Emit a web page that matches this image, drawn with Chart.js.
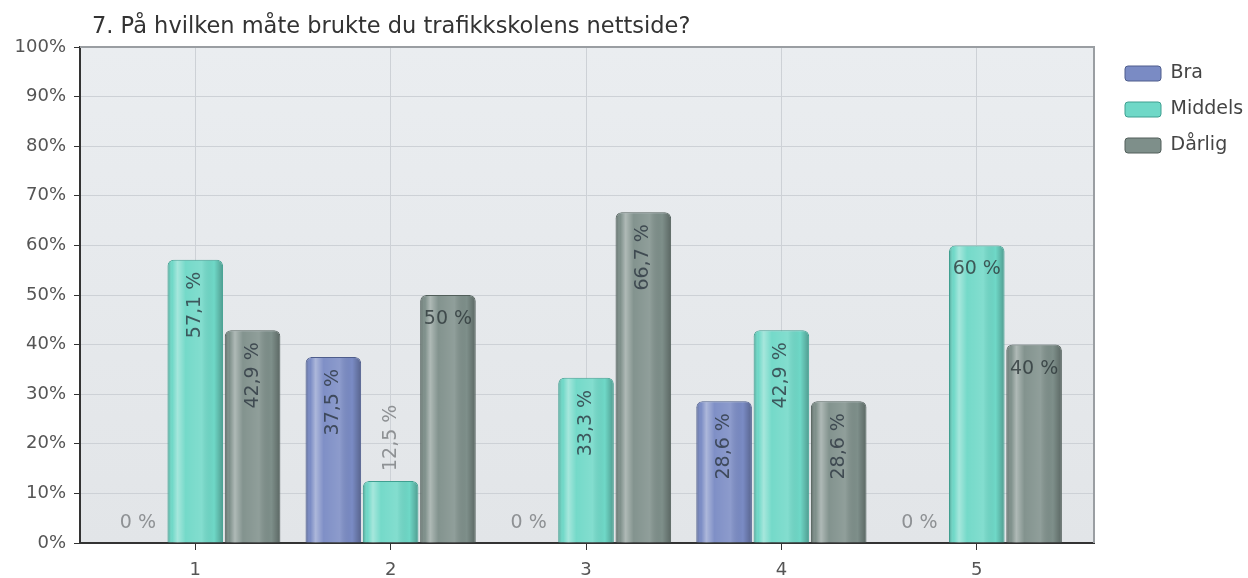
<!DOCTYPE html>
<html>
<head>
<meta charset="utf-8">
<script src="https://cdn.jsdelivr.net/npm/chart.js@4.4.1/dist/chart.umd.min.js"></script>
<style>
  html, body { margin: 0; padding: 0; background: #fff; }
  #wrap { width: 1248px; height: 578px; position: relative; }
</style>
</head>
<body>
<div id="wrap"><canvas id="surveyChart"></canvas></div>
<script>
const chartTitle = '7. På hvilken måte brukte du trafikkskolens nettside?';
const categories = ['1', '2', '3', '4', '5'];
const seriesNames = ['Bra', 'Middels', 'Dårlig'];
const braValues = [0, 37.5, 0, 28.6, 0];
const middelsValues = [57.1, 12.5, 33.3, 42.9, 60];
const darligValues = [42.9, 50, 66.7, 28.6, 40];

const FONT = '"DejaVu Sans", sans-serif';
Chart.defaults.font.family = FONT;

// bars sit on a linear x scale so the group spacing matches the original
function toPoints(values) {
    return values.map((v, i) => ({ x: i + 1, y: v }));
}

function pctLabel(v) {
    return String(v).replace('.', ',') + ' %';
}

const plotBackground = {
    id: 'plotBackground',
    beforeDraw(chart) {
        const { ctx, chartArea: a } = chart;
        const g = ctx.createLinearGradient(0, a.top, 0, a.bottom);
        g.addColorStop(0, '#eaedf0');
        g.addColorStop(1, '#e2e5e8');
        ctx.save();
        ctx.fillStyle = g;
        ctx.fillRect(a.left, a.top, a.right - a.left, a.bottom - a.top);
        ctx.restore();
    },
    afterDatasetsDraw(chart) {
        const { ctx, chartArea: a } = chart;
        ctx.save();
        ctx.strokeStyle = '#9a9ea2';
        ctx.lineWidth = 2;
        ctx.beginPath();
        ctx.moveTo(a.left, a.top);
        ctx.lineTo(a.right, a.top);
        ctx.lineTo(a.right, a.bottom);
        ctx.stroke();
        ctx.restore();
    },
    afterDraw(chart) {
        const ctx = chart.ctx;
        ctx.save();
        ctx.font = '22.5px ' + FONT;
        ctx.fillStyle = '#333';
        ctx.textAlign = 'left';
        ctx.textBaseline = 'alphabetic';
        ctx.fillText(chartTitle, 92, 33);
        ctx.restore();
    }
};

// cylinder-like shading over each bar
const barShine = {
    id: 'barShine',
    afterDatasetsDraw(chart) {
        const ctx = chart.ctx;
        chart.data.datasets.forEach((ds, di) => {
            chart.getDatasetMeta(di).data.forEach((bar) => {
                const { x, y, base, width } = bar.getProps(['x', 'y', 'base', 'width'], true);
                const h = base - y;
                if (h < 2) return;
                const l = x - width / 2 + 1;
                const w = width - 2;
                const g = ctx.createLinearGradient(l, 0, l + w, 0);
                g.addColorStop(0, 'rgba(0,0,0,0.18)');
                g.addColorStop(0.07, 'rgba(255,255,255,0)');
                g.addColorStop(0.17, 'rgba(255,255,255,0.38)');
                g.addColorStop(0.32, 'rgba(255,255,255,0.04)');
                g.addColorStop(0.62, 'rgba(255,255,255,0.14)');
                g.addColorStop(0.85, 'rgba(0,0,0,0)');
                g.addColorStop(1, 'rgba(0,0,0,0.25)');
                ctx.save();
                ctx.beginPath();
                ctx.roundRect(l, y + 1, w, h - 1, [5, 5, 0, 0]);
                ctx.fillStyle = g;
                ctx.fill();
                ctx.restore();
            });
        });
    }
};

const valueLabels = {
    id: 'valueLabels',
    afterDatasetsDraw(chart) {
        const ctx = chart.ctx;
        ctx.save();
        ctx.font = '19px ' + FONT;
        chart.data.datasets.forEach((ds, di) => {
            chart.getDatasetMeta(di).data.forEach((bar, i) => {
                const text = pctLabel(ds.data[i].y);
                const { x, y, base, width } = bar.getProps(['x', 'y', 'base', 'width'], true);
                const h = base - y;
                const tw = ctx.measureText(text).width;
                if (tw <= width - 4) {
                    ctx.textAlign = 'center';
                    ctx.textBaseline = 'middle';
                    if (h < 45) {
                        ctx.fillStyle = '#8e9194';
                        ctx.fillText(text, x, y - 20);
                    } else {
                        ctx.fillStyle = 'rgba(45,55,58,0.8)';
                        ctx.fillText(text, x, y + 24);
                    }
                } else {
                    ctx.save();
                    ctx.translate(x, y);
                    ctx.rotate(-Math.PI / 2);
                    ctx.textBaseline = 'middle';
                    if (h >= tw + 20) {
                        ctx.textAlign = 'right';
                        ctx.fillStyle = 'rgba(45,55,65,0.8)';
                        ctx.fillText(text, -12, 0);
                    } else {
                        ctx.textAlign = 'left';
                        ctx.fillStyle = '#8e9194';
                        ctx.fillText(text, 10, 0);
                    }
                    ctx.restore();
                }
            });
        });
        ctx.restore();
    }
};

const barStyle = {
    borderWidth: 1,
    borderRadius: { topLeft: 6, topRight: 6, bottomLeft: 0, bottomRight: 0 },
    borderSkipped: 'bottom',
    barPercentage: 0.97,
    categoryPercentage: 0.88
};

const config = {
    type: 'bar',
    data: {
        datasets: [
            Object.assign({
                label: seriesNames[0],
                data: toPoints(braValues),
                backgroundColor: '#7a8bc4',
                borderColor: '#4e5d8c'
            }, barStyle),
            Object.assign({
                label: seriesNames[1],
                data: toPoints(middelsValues),
                backgroundColor: '#6fd8c7',
                borderColor: '#3f9f90'
            }, barStyle),
            Object.assign({
                label: seriesNames[2],
                data: toPoints(darligValues),
                backgroundColor: '#7e8f8a',
                borderColor: '#525f5b'
            }, barStyle)
        ]
    },
    options: {
        responsive: true,
        maintainAspectRatio: false,
        animation: false,
        layout: { padding: { top: 47, right: 0, bottom: 0, left: 0 } },
        scales: {
            x: {
                type: 'linear',
                min: 0.41,
                max: 5.6,
                offset: false,
                grid: { offset: false, color: '#cdd1d6', tickLength: 7, tickColor: '#333' },
                border: { color: '#333', width: 2 },
                ticks: {
                    stepSize: 1,
                    includeBounds: false,
                    autoSkip: false,
                    maxRotation: 0,
                    font: { size: 18 },
                    color: '#555',
                    padding: 10,
                    callback: (v) => categories[v - 1] ?? ''
                },
                afterFit: (s) => { s.height = 35; }
            },
            y: {
                min: 0,
                max: 100,
                grid: { color: '#cdd1d6', tickLength: 6, tickColor: '#333' },
                border: { color: '#333', width: 2 },
                ticks: {
                    stepSize: 10,
                    font: { size: 18 },
                    color: '#555',
                    padding: 8,
                    callback: (v) => v + '%'
                },
                afterFit: (s) => { s.width = 80; }
            },
            // empty spacer between plot and legend
            gap: {
                type: 'linear',
                position: 'right',
                grid: { display: false },
                ticks: { display: false },
                border: { display: false },
                afterFit: (s) => { s.width = 14; }
            }
        },
        plugins: {
            legend: {
                position: 'right',
                align: 'start',
                maxWidth: 140,
                labels: {
                    boxWidth: 36,
                    boxHeight: 15,
                    padding: 17,
                    color: '#444',
                    font: { size: 19 },
                    useBorderRadius: true,
                    borderRadius: 3
                }
            },
            tooltip: { enabled: false }
        }
    },
    plugins: [plotBackground, barShine, valueLabels]
};

new Chart(document.getElementById('surveyChart'), config);
</script>
</body>
</html>
